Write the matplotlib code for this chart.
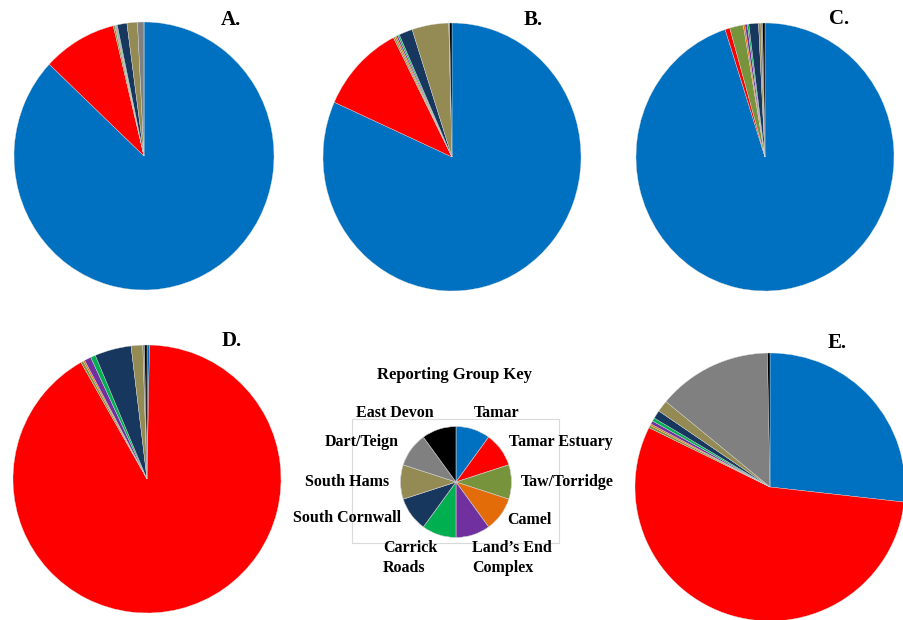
import matplotlib
matplotlib.use("Agg")
import matplotlib.pyplot as plt
from matplotlib.patches import Rectangle

# ---- data ----
groups = ["Tamar", "Tamar Estuary", "Taw/Torridge", "Camel", "Land's End Complex",
          "Carrick Roads", "South Cornwall", "South Hams", "Dart/Teign", "East Devon"]
colors = ["#0070C0", "#FF0000", "#77933C", "#E36C09", "#7030A0",
          "#00B050", "#17375E", "#948A54", "#808080", "#000000"]

pie_A = [87.0, 9.2, 0.2, 0.1, 0.1, 0.1, 1.2, 1.3, 0.8, 0.0]
pie_B = [81.7, 10.8, 0.2, 0.2, 0.2, 0.2, 1.7, 4.6, 0.1, 0.3]
pie_C = [95.0, 0.6, 1.7, 0.2, 0.3, 0.2, 1.2, 0.3, 0.2, 0.3]
pie_D = [0.3, 91.5, 0.3, 0.2, 0.8, 0.6, 4.4, 1.4, 0.2, 0.3]
pie_E = [26.8, 55.5, 0.3, 0.2, 0.4, 0.4, 1.0, 1.4, 13.7, 0.3]
key_values = [1] * 10
panel_labels = ["A.", "B.", "C.", "D.", "E."]
key_title = "Reporting Group Key"

W, H = 904, 620
fig = plt.figure(figsize=(W / 100, H / 100), dpi=100)
fig.patch.set_facecolor("white")
FONT = "Liberation Serif"


def px_axes(cx, cy, rx, ry):
    ax = fig.add_axes([(cx - rx) / W, 1 - (cy + ry) / H, 2 * rx / W, 2 * ry / H])
    return ax


def draw_pie(ax, vals, lw=0.25, ec="#e0e0e0"):
    ax.pie(vals, colors=colors, startangle=90, counterclock=False, radius=1,
           wedgeprops=dict(linewidth=lw, edgecolor=ec))
    ax.set_aspect("auto")
    ax.set_xlim(-1, 1)
    ax.set_ylim(-1, 1)
    ax.axis("off")


def ftext(x, y, s, **kw):
    kw.setdefault("family", FONT)
    kw.setdefault("weight", "bold")
    fig.text(x / W, 1 - y / H, s, **kw)


# key box outline
fig.patches.append(Rectangle((352 / W, 1 - 543 / H), (559 - 352) / W, (543 - 419) / H,
                             transform=fig.transFigure, facecolor="none",
                             edgecolor="#d9d9d9", linewidth=0.8, zorder=-1))

# main pies
specs = [(pie_A, 144, 156, 130, 134),
         (pie_B, 452, 157, 129, 134),
         (pie_C, 765, 157, 129, 134),
         (pie_D, 147, 479, 134, 134),
         (pie_E, 770, 487, 135, 134)]
for vals, cx, cy, rx, ry in specs:
    draw_pie(px_axes(cx, cy, rx, ry), vals)

# key pie
draw_pie(px_axes(456, 482, 55.5, 55.5), key_values, lw=0.4, ec="#d0d0d0")

# panel letters
letter_pos = [(231, 20), (533, 20), (839, 19), (232, 341), (837, 343)]
for lab, (x, y) in zip(panel_labels, letter_pos):
    ftext(x, y, lab, fontsize=15, ha="center", va="center")

# key title
ftext(455, 375, key_title, fontsize=12, ha="center", va="center")

# key labels
LS = 11.5
ftext(497, 413, "Tamar", fontsize=LS, ha="center", va="center")
ftext(561, 442, "Tamar Estuary", fontsize=LS, ha="center", va="center")
ftext(567, 482, "Taw/Torridge", fontsize=LS, ha="center", va="center")
ftext(529, 520, "Camel", fontsize=LS, ha="center", va="center")
ftext(472, 558, "Land\u2019s End\nComplex", fontsize=LS, ha="left", va="center",
      linespacing=1.25)
ftext(383, 558, "Carrick\nRoads", fontsize=LS, ha="left", va="center", linespacing=1.25)
ftext(347, 518, "South Cornwall", fontsize=LS, ha="center", va="center")
ftext(347, 482, "South Hams", fontsize=LS, ha="center", va="center")
ftext(362, 442, "Dart/Teign", fontsize=LS, ha="center", va="center")
ftext(395, 413, "East Devon", fontsize=LS, ha="center", va="center")

fig.savefig("out.png", dpi=100, facecolor="white")
